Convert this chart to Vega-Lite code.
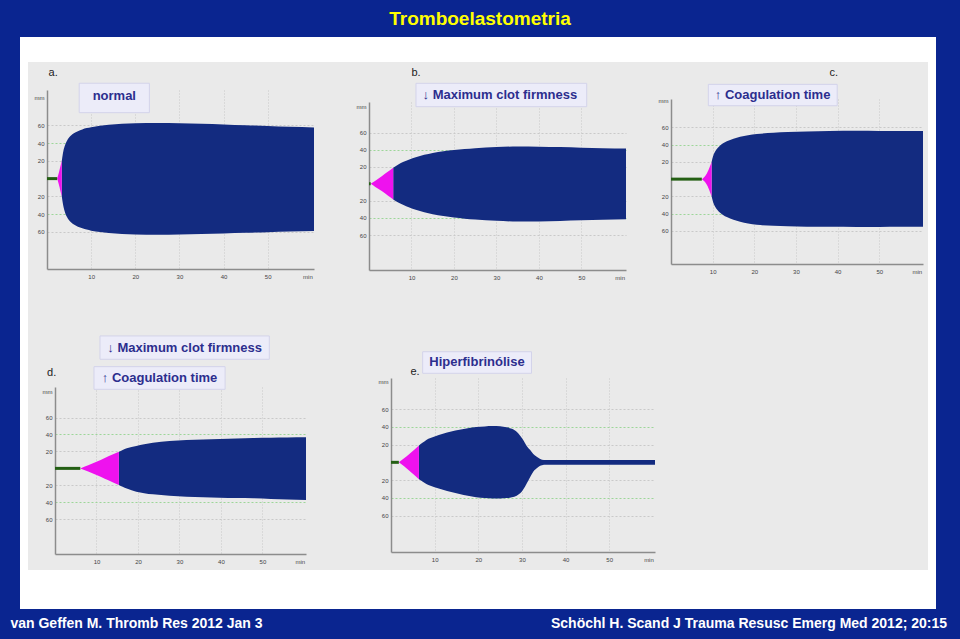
{
  "$schema": "https://vega.github.io/schema/vega-lite/v6.json",
  "background": "#eaeaea",
  "padding": 0,
  "config": {
    "view": {"stroke": null},
    "axis": {"labelFont": "Liberation Sans", "title": null},
    "text": {"font": "Liberation Sans"},
    "concat": {"spacing": 0}
  },
  "datasets": {
    "pa": [
      {"t": 0, "hi": 0, "lo": 0, "ph": "g"}, {"t": 2.3, "hi": 0, "lo": 0, "ph": "g"},
      {"t": 2.3, "hi": 0, "lo": 0, "ph": "p"}, {"t": 2.7, "hi": 7, "lo": -7, "ph": "p"}, {"t": 3.0, "hi": 13, "lo": -13, "ph": "p"}, {"t": 3.35, "hi": 20, "lo": -20, "ph": "p"},
      {"t": 3.35, "hi": 20, "lo": -20, "ph": "n"}, {"t": 3.7, "hi": 31, "lo": -31, "ph": "n"}, {"t": 4.1, "hi": 38, "lo": -38.5, "ph": "n"}, {"t": 4.5, "hi": 42.5, "lo": -43, "ph": "n"},
      {"t": 5, "hi": 46.5, "lo": -47, "ph": "n"}, {"t": 6, "hi": 51, "lo": -51.5, "ph": "n"}, {"t": 7, "hi": 53.5, "lo": -54.2, "ph": "n"}, {"t": 8, "hi": 55.5, "lo": -56, "ph": "n"},
      {"t": 9, "hi": 57, "lo": -57.5, "ph": "n"}, {"t": 10, "hi": 58, "lo": -58.7, "ph": "n"}, {"t": 12, "hi": 59.6, "lo": -60.3, "ph": "n"}, {"t": 14, "hi": 60.7, "lo": -61.5, "ph": "n"},
      {"t": 17, "hi": 61.8, "lo": -62.5, "ph": "n"}, {"t": 20, "hi": 62.4, "lo": -63, "ph": "n"}, {"t": 25, "hi": 62.8, "lo": -63.3, "ph": "n"}, {"t": 30, "hi": 62.6, "lo": -63, "ph": "n"},
      {"t": 35, "hi": 62, "lo": -62.6, "ph": "n"}, {"t": 40, "hi": 61.2, "lo": -62, "ph": "n"}, {"t": 45, "hi": 60.3, "lo": -61.2, "ph": "n"}, {"t": 50, "hi": 59.3, "lo": -60.4, "ph": "n"},
      {"t": 55, "hi": 58.4, "lo": -59.7, "ph": "n"}, {"t": 60.5, "hi": 57.6, "lo": -59, "ph": "n"}
    ],
    "pb": [
      {"t": 0, "hi": 0, "lo": 0, "ph": "g"}, {"t": 0.4, "hi": 0, "lo": 0, "ph": "g"},
      {"t": 0.4, "hi": 0, "lo": 0, "ph": "p"}, {"t": 1.5, "hi": 3.8, "lo": -3.6, "ph": "p"}, {"t": 3, "hi": 9, "lo": -8.5, "ph": "p"}, {"t": 4.5, "hi": 14.5, "lo": -14, "ph": "p"}, {"t": 5.7, "hi": 19, "lo": -18.2, "ph": "p"},
      {"t": 5.7, "hi": 19, "lo": -18.2, "ph": "n"}, {"t": 7, "hi": 23, "lo": -22, "ph": "n"}, {"t": 8, "hi": 25.5, "lo": -24.5, "ph": "n"}, {"t": 9.5, "hi": 28.7, "lo": -27.7, "ph": "n"},
      {"t": 11, "hi": 31.2, "lo": -30.3, "ph": "n"}, {"t": 13, "hi": 34, "lo": -33.3, "ph": "n"}, {"t": 15, "hi": 36.2, "lo": -35.7, "ph": "n"}, {"t": 17.5, "hi": 38.2, "lo": -37.8, "ph": "n"},
      {"t": 20, "hi": 39.6, "lo": -39.5, "ph": "n"}, {"t": 22.5, "hi": 40.8, "lo": -40.8, "ph": "n"}, {"t": 25, "hi": 41.8, "lo": -41.8, "ph": "n"}, {"t": 30, "hi": 43.1, "lo": -43.3, "ph": "n"},
      {"t": 35, "hi": 43.8, "lo": -44.2, "ph": "n"}, {"t": 40, "hi": 43.6, "lo": -44, "ph": "n"}, {"t": 45, "hi": 43.1, "lo": -43.5, "ph": "n"}, {"t": 50, "hi": 42.4, "lo": -42.8, "ph": "n"},
      {"t": 55, "hi": 41.9, "lo": -42.2, "ph": "n"}, {"t": 60.5, "hi": 41.4, "lo": -41.6, "ph": "n"}
    ],
    "pc": [
      {"t": 0, "hi": 0, "lo": 0, "ph": "g"}, {"t": 7.4, "hi": 0, "lo": 0, "ph": "g"},
      {"t": 7.4, "hi": 0, "lo": 0, "ph": "p"}, {"t": 8, "hi": 2.5, "lo": -2.5, "ph": "p"}, {"t": 8.6, "hi": 6.5, "lo": -6.5, "ph": "p"}, {"t": 9, "hi": 10.5, "lo": -10.5, "ph": "p"}, {"t": 9.4, "hi": 15.5, "lo": -15.5, "ph": "p"}, {"t": 9.75, "hi": 20, "lo": -20, "ph": "p"},
      {"t": 9.75, "hi": 20, "lo": -20, "ph": "n"}, {"t": 10.1, "hi": 26.5, "lo": -26.5, "ph": "n"}, {"t": 10.6, "hi": 32, "lo": -32, "ph": "n"}, {"t": 11.2, "hi": 36, "lo": -36, "ph": "n"},
      {"t": 11.8, "hi": 39, "lo": -39, "ph": "n"}, {"t": 12.5, "hi": 41.5, "lo": -41.5, "ph": "n"}, {"t": 13.4, "hi": 44, "lo": -44, "ph": "n"}, {"t": 15, "hi": 47, "lo": -47, "ph": "n"},
      {"t": 16.6, "hi": 49.3, "lo": -49.4, "ph": "n"}, {"t": 18.5, "hi": 51, "lo": -51.5, "ph": "n"}, {"t": 20.6, "hi": 52.3, "lo": -53, "ph": "n"}, {"t": 24.6, "hi": 53.8, "lo": -54.2, "ph": "n"},
      {"t": 28, "hi": 54.7, "lo": -54.8, "ph": "n"}, {"t": 32.6, "hi": 55.3, "lo": -55.2, "ph": "n"}, {"t": 38, "hi": 55.8, "lo": -55.4, "ph": "n"}, {"t": 44.6, "hi": 56.2, "lo": -55.5, "ph": "n"},
      {"t": 50, "hi": 56, "lo": -55.5, "ph": "n"}, {"t": 55, "hi": 55.9, "lo": -55.4, "ph": "n"}, {"t": 60.5, "hi": 55.8, "lo": -55.2, "ph": "n"}
    ],
    "pd": [
      {"t": 0, "hi": 0, "lo": 0, "ph": "g"}, {"t": 6.1, "hi": 0, "lo": 0, "ph": "g"},
      {"t": 6.1, "hi": 0, "lo": 0, "ph": "p"}, {"t": 8, "hi": 3.6, "lo": -3.6, "ph": "p"}, {"t": 10, "hi": 7.8, "lo": -7.8, "ph": "p"}, {"t": 12, "hi": 12.2, "lo": -12.2, "ph": "p"}, {"t": 14, "hi": 16.6, "lo": -16.6, "ph": "p"}, {"t": 15.4, "hi": 19.6, "lo": -19.6, "ph": "p"},
      {"t": 15.4, "hi": 19.6, "lo": -19.6, "ph": "n"}, {"t": 16.3, "hi": 21.8, "lo": -21.8, "ph": "n"}, {"t": 17.3, "hi": 23.7, "lo": -23.8, "ph": "n"}, {"t": 19.6, "hi": 26.4, "lo": -27.5, "ph": "n"},
      {"t": 21.5, "hi": 28.5, "lo": -29.2, "ph": "n"}, {"t": 23.6, "hi": 30.3, "lo": -30.6, "ph": "n"}, {"t": 27.6, "hi": 32.3, "lo": -32.4, "ph": "n"}, {"t": 31.7, "hi": 33.5, "lo": -33.4, "ph": "n"},
      {"t": 35.7, "hi": 34.2, "lo": -34.2, "ph": "n"}, {"t": 39.7, "hi": 34.7, "lo": -34.6, "ph": "n"}, {"t": 43.8, "hi": 35.3, "lo": -35, "ph": "n"}, {"t": 47.8, "hi": 35.9, "lo": -35.3, "ph": "n"},
      {"t": 52, "hi": 36.2, "lo": -36, "ph": "n"}, {"t": 56, "hi": 36.5, "lo": -36.6, "ph": "n"}, {"t": 60.5, "hi": 36.7, "lo": -37.3, "ph": "n"}
    ],
    "pe": [
      {"t": 0, "hi": 0, "lo": 0, "ph": "g"}, {"t": 1.8, "hi": 0, "lo": 0, "ph": "g"},
      {"t": 1.8, "hi": 0, "lo": 0, "ph": "p"}, {"t": 3, "hi": 4.5, "lo": -4.5, "ph": "p"}, {"t": 4.2, "hi": 9.5, "lo": -9.5, "ph": "p"}, {"t": 5.4, "hi": 14.5, "lo": -14.5, "ph": "p"}, {"t": 6.4, "hi": 19, "lo": -19, "ph": "p"},
      {"t": 6.4, "hi": 19, "lo": -19, "ph": "n"}, {"t": 7.2, "hi": 22, "lo": -21.5, "ph": "n"}, {"t": 8.1, "hi": 25.3, "lo": -24.5, "ph": "n"}, {"t": 10, "hi": 29.2, "lo": -28, "ph": "n"},
      {"t": 11.9, "hi": 32.2, "lo": -30.8, "ph": "n"}, {"t": 13.8, "hi": 34.7, "lo": -33.5, "ph": "n"}, {"t": 15.7, "hi": 36.7, "lo": -35.6, "ph": "n"}, {"t": 17.6, "hi": 38.4, "lo": -37.6, "ph": "n"},
      {"t": 19.5, "hi": 39.7, "lo": -39.2, "ph": "n"}, {"t": 21.5, "hi": 40.5, "lo": -40.3, "ph": "n"}, {"t": 23.3, "hi": 40.9, "lo": -40.8, "ph": "n"}, {"t": 25, "hi": 40.7, "lo": -40.8, "ph": "n"},
      {"t": 26.5, "hi": 39.4, "lo": -40.3, "ph": "n"}, {"t": 27.7, "hi": 37.9, "lo": -39.3, "ph": "n"}, {"t": 28.8, "hi": 34.5, "lo": -37.5, "ph": "n"}, {"t": 29.6, "hi": 30, "lo": -34.9, "ph": "n"},
      {"t": 30.3, "hi": 25.1, "lo": -30.5, "ph": "n"}, {"t": 31.1, "hi": 18.5, "lo": -23.7, "ph": "n"}, {"t": 31.9, "hi": 13.9, "lo": -16.5, "ph": "n"}, {"t": 32.6, "hi": 9.5, "lo": -10.6, "ph": "n"},
      {"t": 33.4, "hi": 6.3, "lo": -6.8, "ph": "n"}, {"t": 34.1, "hi": 4, "lo": -4.2, "ph": "n"}, {"t": 34.6, "hi": 3, "lo": -3.3, "ph": "n"}, {"t": 35.5, "hi": 2.7, "lo": -2.8, "ph": "n"},
      {"t": 60.5, "hi": 2.7, "lo": -2.8, "ph": "n"}
    ]
  },
  "spacing": 0,
  "vconcat": [
    {"width": 960, "height": 37, "view": {"fill": "#0a2590"}, "data": {"values": [{"label": "Tromboelastometria"}]},
     "mark": {"type": "text", "color": "#ffff00", "fontSize": 19, "fontWeight": "bold"}, "encoding": {"text": {"field": "label"}}},
    {"spacing": 0, "hconcat": [
      {"width": 20, "height": 572, "view": {"fill": "#0a2590"}, "data": {"values": []}, "mark": "point"},
      {"spacing": 0, "vconcat": [
        {"width": 916, "height": 25, "view": {"fill": "#ffffff"}, "data": {"values": []}, "mark": "point"},
        {"spacing": 0, "hconcat": [
          {"width": 8, "height": 508, "view": {"fill": "#ffffff"}, "data": {"values": []}, "mark": "point"},
          {"spacing": 0, "vconcat": [
            {"spacing": 0, "hconcat": [
              {"columns": 2, "spacing": 0, "bounds": "flush", "concat": [
                {"width": 19, "height": 28, "data": {"values": []}, "mark": "point"},
                {"width": 1, "height": 28, "data": {"values": []}, "mark": "point"},
                {"width": 19, "height": 1, "data": {"values": []}, "mark": "point"},
                {"width": 267, "height": 179, "layer": [
                  {"data": {"name": "pa"}, "transform": [{"filter": "datum.ph == 'n'"}], "mark": {"type": "area", "color": "#132b80", "interpolate": "monotone"},
                   "encoding": {"x": {"field": "t", "type": "quantitative", "scale": {"domain": [0, 60.5], "nice": false, "zero": false},
                     "axis": {"values": [10, 20, 30, 40, 50, 59], "tickCount": 20, "labelExpr": "datum.value == 59 ? 'min' : datum.label", "title": null, "ticks": false, "labelFontSize": 6, "labelColor": "#444444", "labelPadding": 4, "labelFlush": false, "labelOverlap": false, "domainColor": "#8c8c8c", "domainWidth": 1.5, "grid": true, "gridColor": "#c9c9c9", "gridDash": [1, 2], "gridOpacity": {"condition": {"test": "datum.value == 59", "value": 0}, "value": 1}}},
                    "y": {"field": "hi", "type": "quantitative", "scale": {"domain": [-102, 100], "nice": false, "zero": false},
                     "axis": {"values": [-60, -40, -20, 20, 40, 60, 91], "tickCount": 20, "labelExpr": "datum.value == 91 ? 'mm' : format(abs(datum.value), 'd')", "title": null, "ticks": false, "labelFontSize": 6, "labelColor": "#444444", "labelPadding": 3, "labelFlush": false, "labelOverlap": false, "domainColor": "#8c8c8c", "domainWidth": 1.5, "grid": true, "gridColor": {"condition": {"test": "abs(datum.value) == 40", "value": "#9dd699"}, "value": "#c9c9c9"}, "gridDash": [2, 2], "gridOpacity": {"condition": {"test": "datum.value == 91", "value": 0}, "value": 1}}},
                    "y2": {"field": "lo"}}},
                  {"data": {"name": "pa"}, "transform": [{"filter": "datum.ph == 'p'"}], "mark": {"type": "area", "color": "#ee12ee", "interpolate": "monotone"},
                   "encoding": {"x": {"field": "t", "type": "quantitative", "scale": {"domain": [0, 60.5], "nice": false, "zero": false}},
                    "y": {"field": "hi", "type": "quantitative", "scale": {"domain": [-102, 100], "nice": false, "zero": false}}, "y2": {"field": "lo"}}},
                  {"data": {"name": "pa"}, "transform": [{"filter": "datum.ph == 'g'"}], "mark": {"type": "line", "color": "#245f14", "strokeWidth": 3},
                   "encoding": {"x": {"field": "t", "type": "quantitative", "scale": {"domain": [0, 60.5], "nice": false, "zero": false}},
                    "y": {"field": "hi", "type": "quantitative", "scale": {"domain": [-102, 100], "nice": false, "zero": false}}}},
                  {"data": {"values": [{"label": "normal"}]}, "layer": [
                    {"mark": {"type": "rect", "fill": "#ececf9", "stroke": "#d3d3ea", "strokeWidth": 1},
                     "encoding": {"x": {"datum": 7.3, "type": "quantitative", "scale": {"domain": [0, 60.5], "nice": false, "zero": false}}, "x2": {"datum": 23.2},
                      "y": {"datum": 107.6, "type": "quantitative", "scale": {"domain": [-102, 100], "nice": false, "zero": false}}, "y2": {"datum": 74.4}}},
                    {"mark": {"type": "text", "fontSize": 13, "fontWeight": "bold", "color": "#2c2e8e"},
                     "encoding": {"x": {"datum": 15.25, "type": "quantitative", "scale": {"domain": [0, 60.5], "nice": false, "zero": false}},
                      "y": {"datum": 93.5, "type": "quantitative", "scale": {"domain": [-102, 100], "nice": false, "zero": false}}, "text": {"field": "label"}}}
                  ]},
                  {"data": {"values": [{"label": "a."}]}, "mark": {"type": "text", "fontSize": 11, "color": "#222222"},
                   "encoding": {"x": {"datum": 1.4, "type": "quantitative", "scale": {"domain": [0, 60.5], "nice": false, "zero": false}},
                    "y": {"datum": 119, "type": "quantitative", "scale": {"domain": [-102, 100], "nice": false, "zero": false}}, "text": {"field": "label"}}}
                ]},
                {"width": 19, "height": 43, "data": {"values": []}, "mark": "point"}
              ]},
              {"columns": 2, "spacing": 0, "bounds": "flush", "concat": [
                {"width": 55, "height": 40, "data": {"values": []}, "mark": "point"},
                {"width": 1, "height": 40, "data": {"values": []}, "mark": "point"},
                {"width": 55, "height": 1, "data": {"values": []}, "mark": "point"},
                {"width": 257, "height": 168, "layer": [
                  {"data": {"name": "pb"}, "transform": [{"filter": "datum.ph == 'n'"}], "mark": {"type": "area", "color": "#132b80", "interpolate": "monotone"},
                   "encoding": {"x": {"field": "t", "type": "quantitative", "scale": {"domain": [0, 60.5], "nice": false, "zero": false},
                     "axis": {"values": [10, 20, 30, 40, 50, 59], "tickCount": 20, "labelExpr": "datum.value == 59 ? 'min' : datum.label", "title": null, "ticks": false, "labelFontSize": 6, "labelColor": "#444444", "labelPadding": 4, "labelFlush": false, "labelOverlap": false, "domainColor": "#8c8c8c", "domainWidth": 1.5, "grid": true, "gridColor": "#c9c9c9", "gridDash": [1, 2], "gridOpacity": {"condition": {"test": "datum.value == 59", "value": 0}, "value": 1}}},
                    "y": {"field": "hi", "type": "quantitative", "scale": {"domain": [-101, 96], "nice": false, "zero": false},
                     "axis": {"values": [-60, -40, -20, 20, 40, 60, 91], "tickCount": 20, "labelExpr": "datum.value == 91 ? 'mm' : format(abs(datum.value), 'd')", "title": null, "ticks": false, "labelFontSize": 6, "labelColor": "#444444", "labelPadding": 3, "labelFlush": false, "labelOverlap": false, "domainColor": "#8c8c8c", "domainWidth": 1.5, "grid": true, "gridColor": {"condition": {"test": "abs(datum.value) == 40", "value": "#9dd699"}, "value": "#c9c9c9"}, "gridDash": [2, 2], "gridOpacity": {"condition": {"test": "datum.value == 91", "value": 0}, "value": 1}}},
                    "y2": {"field": "lo"}}},
                  {"data": {"name": "pb"}, "transform": [{"filter": "datum.ph == 'p'"}], "mark": {"type": "area", "color": "#ee12ee", "interpolate": "monotone"},
                   "encoding": {"x": {"field": "t", "type": "quantitative", "scale": {"domain": [0, 60.5], "nice": false, "zero": false}},
                    "y": {"field": "hi", "type": "quantitative", "scale": {"domain": [-101, 96], "nice": false, "zero": false}}, "y2": {"field": "lo"}}},
                  {"data": {"name": "pb"}, "transform": [{"filter": "datum.ph == 'g'"}], "mark": {"type": "line", "color": "#245f14", "strokeWidth": 3},
                   "encoding": {"x": {"field": "t", "type": "quantitative", "scale": {"domain": [0, 60.5], "nice": false, "zero": false}},
                    "y": {"field": "hi", "type": "quantitative", "scale": {"domain": [-101, 96], "nice": false, "zero": false}}}},
                  {"data": {"values": [{"label": "↓ Maximum clot firmness"}]}, "layer": [
                    {"mark": {"type": "rect", "fill": "#ececf9", "stroke": "#d3d3ea", "strokeWidth": 1},
                     "encoding": {"x": {"datum": 11.06, "type": "quantitative", "scale": {"domain": [0, 60.5], "nice": false, "zero": false}}, "x2": {"datum": 51.25},
                      "y": {"datum": 117.9, "type": "quantitative", "scale": {"domain": [-101, 96], "nice": false, "zero": false}}, "y2": {"datum": 90.5}}},
                    {"mark": {"type": "text", "fontSize": 13, "fontWeight": "bold", "color": "#2c2e8e"},
                     "encoding": {"x": {"datum": 30.8, "type": "quantitative", "scale": {"domain": [0, 60.5], "nice": false, "zero": false}},
                      "y": {"datum": 104.5, "type": "quantitative", "scale": {"domain": [-101, 96], "nice": false, "zero": false}}, "text": {"field": "label"}}}
                  ]},
                  {"data": {"values": [{"label": "b."}]}, "mark": {"type": "text", "fontSize": 11, "color": "#222222"},
                   "encoding": {"x": {"datum": 11.06, "type": "quantitative", "scale": {"domain": [0, 60.5], "nice": false, "zero": false}},
                    "y": {"datum": 130.4, "type": "quantitative", "scale": {"domain": [-101, 96], "nice": false, "zero": false}}, "text": {"field": "label"}}}
                ]},
                {"width": 55, "height": 42, "data": {"values": []}, "mark": "point"}
              ]},
              {"columns": 2, "spacing": 0, "bounds": "flush", "concat": [
                {"width": 45, "height": 37, "data": {"values": []}, "mark": "point"},
                {"width": 1, "height": 37, "data": {"values": []}, "mark": "point"},
                {"width": 45, "height": 1, "data": {"values": []}, "mark": "point"},
                {"width": 252, "height": 165, "layer": [
                  {"data": {"name": "pc"}, "transform": [{"filter": "datum.ph == 'n'"}], "mark": {"type": "area", "color": "#132b80", "interpolate": "monotone"},
                   "encoding": {"x": {"field": "t", "type": "quantitative", "scale": {"domain": [0, 60.5], "nice": false, "zero": false},
                     "axis": {"values": [10, 20, 30, 40, 50, 59], "tickCount": 20, "labelExpr": "datum.value == 59 ? 'min' : datum.label", "title": null, "ticks": false, "labelFontSize": 6, "labelColor": "#444444", "labelPadding": 4, "labelFlush": false, "labelOverlap": false, "domainColor": "#8c8c8c", "domainWidth": 1.5, "grid": true, "gridColor": "#c9c9c9", "gridDash": [1, 2], "gridOpacity": {"condition": {"test": "datum.value == 59", "value": 0}, "value": 1}}},
                    "y": {"field": "hi", "type": "quantitative", "scale": {"domain": [-98.5, 93], "nice": false, "zero": false},
                     "axis": {"values": [-60, -40, -20, 20, 40, 60, 91], "tickCount": 20, "labelExpr": "datum.value == 91 ? 'mm' : format(abs(datum.value), 'd')", "title": null, "ticks": false, "labelFontSize": 6, "labelColor": "#444444", "labelPadding": 3, "labelFlush": false, "labelOverlap": false, "domainColor": "#8c8c8c", "domainWidth": 1.5, "grid": true, "gridColor": {"condition": {"test": "abs(datum.value) == 40", "value": "#9dd699"}, "value": "#c9c9c9"}, "gridDash": [2, 2], "gridOpacity": {"condition": {"test": "datum.value == 91", "value": 0}, "value": 1}}},
                    "y2": {"field": "lo"}}},
                  {"data": {"name": "pc"}, "transform": [{"filter": "datum.ph == 'p'"}], "mark": {"type": "area", "color": "#ee12ee", "interpolate": "monotone"},
                   "encoding": {"x": {"field": "t", "type": "quantitative", "scale": {"domain": [0, 60.5], "nice": false, "zero": false}},
                    "y": {"field": "hi", "type": "quantitative", "scale": {"domain": [-98.5, 93], "nice": false, "zero": false}}, "y2": {"field": "lo"}}},
                  {"data": {"name": "pc"}, "transform": [{"filter": "datum.ph == 'g'"}], "mark": {"type": "line", "color": "#245f14", "strokeWidth": 3},
                   "encoding": {"x": {"field": "t", "type": "quantitative", "scale": {"domain": [0, 60.5], "nice": false, "zero": false}},
                    "y": {"field": "hi", "type": "quantitative", "scale": {"domain": [-98.5, 93], "nice": false, "zero": false}}}},
                  {"data": {"values": [{"label": "↑ Coagulation time"}]}, "layer": [
                    {"mark": {"type": "rect", "fill": "#ececf9", "stroke": "#d3d3ea", "strokeWidth": 1},
                     "encoding": {"x": {"datum": 8.96, "type": "quantitative", "scale": {"domain": [0, 60.5], "nice": false, "zero": false}}, "x2": {"datum": 39.9},
                      "y": {"datum": 110, "type": "quantitative", "scale": {"domain": [-98.5, 93], "nice": false, "zero": false}}, "y2": {"datum": 85.2}}},
                    {"mark": {"type": "text", "fontSize": 13, "fontWeight": "bold", "color": "#2c2e8e"},
                     "encoding": {"x": {"datum": 24.4, "type": "quantitative", "scale": {"domain": [0, 60.5], "nice": false, "zero": false}},
                      "y": {"datum": 97.6, "type": "quantitative", "scale": {"domain": [-98.5, 93], "nice": false, "zero": false}}, "text": {"field": "label"}}}
                  ]},
                  {"data": {"values": [{"label": "c."}]}, "mark": {"type": "text", "fontSize": 11, "color": "#222222"},
                   "encoding": {"x": {"datum": 39.1, "type": "quantitative", "scale": {"domain": [0, 60.5], "nice": false, "zero": false}},
                    "y": {"datum": 123.2, "type": "quantitative", "scale": {"domain": [-98.5, 93], "nice": false, "zero": false}}, "text": {"field": "label"}}}
                ]},
                {"width": 45, "height": 48, "data": {"values": []}, "mark": "point"}
              ]}
            ]},
            {"spacing": 0, "hconcat": [
              {"columns": 2, "spacing": 0, "bounds": "flush", "concat": [
                {"width": 27, "height": 75, "data": {"values": []}, "mark": "point"},
                {"width": 1, "height": 75, "data": {"values": []}, "mark": "point"},
                {"width": 27, "height": 1, "data": {"values": []}, "mark": "point"},
                {"width": 251, "height": 167, "layer": [
                  {"data": {"name": "pd"}, "transform": [{"filter": "datum.ph == 'n'"}], "mark": {"type": "area", "color": "#132b80", "interpolate": "monotone"},
                   "encoding": {"x": {"field": "t", "type": "quantitative", "scale": {"domain": [0, 60.5], "nice": false, "zero": false},
                     "axis": {"values": [10, 20, 30, 40, 50, 59], "tickCount": 20, "labelExpr": "datum.value == 59 ? 'min' : datum.label", "title": null, "ticks": false, "labelFontSize": 6, "labelColor": "#444444", "labelPadding": 4, "labelFlush": false, "labelOverlap": false, "domainColor": "#8c8c8c", "domainWidth": 1.5, "grid": true, "gridColor": "#c9c9c9", "gridDash": [1, 2], "gridOpacity": {"condition": {"test": "datum.value == 59", "value": 0}, "value": 1}}},
                    "y": {"field": "hi", "type": "quantitative", "scale": {"domain": [-101, 96], "nice": false, "zero": false},
                     "axis": {"values": [-60, -40, -20, 20, 40, 60, 91], "tickCount": 20, "labelExpr": "datum.value == 91 ? 'mm' : format(abs(datum.value), 'd')", "title": null, "ticks": false, "labelFontSize": 6, "labelColor": "#444444", "labelPadding": 3, "labelFlush": false, "labelOverlap": false, "domainColor": "#8c8c8c", "domainWidth": 1.5, "grid": true, "gridColor": {"condition": {"test": "abs(datum.value) == 40", "value": "#9dd699"}, "value": "#c9c9c9"}, "gridDash": [2, 2], "gridOpacity": {"condition": {"test": "datum.value == 91", "value": 0}, "value": 1}}},
                    "y2": {"field": "lo"}}},
                  {"data": {"name": "pd"}, "transform": [{"filter": "datum.ph == 'p'"}], "mark": {"type": "area", "color": "#ee12ee", "interpolate": "monotone"},
                   "encoding": {"x": {"field": "t", "type": "quantitative", "scale": {"domain": [0, 60.5], "nice": false, "zero": false}},
                    "y": {"field": "hi", "type": "quantitative", "scale": {"domain": [-101, 96], "nice": false, "zero": false}}, "y2": {"field": "lo"}}},
                  {"data": {"name": "pd"}, "transform": [{"filter": "datum.ph == 'g'"}], "mark": {"type": "line", "color": "#245f14", "strokeWidth": 3},
                   "encoding": {"x": {"field": "t", "type": "quantitative", "scale": {"domain": [0, 60.5], "nice": false, "zero": false}},
                    "y": {"field": "hi", "type": "quantitative", "scale": {"domain": [-101, 96], "nice": false, "zero": false}}}},
                  {"data": {"values": [{"label": "↓ Maximum clot firmness"}]}, "layer": [
                    {"mark": {"type": "rect", "fill": "#ececf9", "stroke": "#d3d3ea", "strokeWidth": 1},
                     "encoding": {"x": {"datum": 10.85, "type": "quantitative", "scale": {"domain": [0, 60.5], "nice": false, "zero": false}}, "x2": {"datum": 51.65},
                      "y": {"datum": 156.2, "type": "quantitative", "scale": {"domain": [-101, 96], "nice": false, "zero": false}}, "y2": {"datum": 128.7}}},
                    {"mark": {"type": "text", "fontSize": 13, "fontWeight": "bold", "color": "#2c2e8e"},
                     "encoding": {"x": {"datum": 31.25, "type": "quantitative", "scale": {"domain": [0, 60.5], "nice": false, "zero": false}},
                      "y": {"datum": 142.4, "type": "quantitative", "scale": {"domain": [-101, 96], "nice": false, "zero": false}}, "text": {"field": "label"}}}
                  ]},
                  {"data": {"values": [{"label": "↑ Coagulation time"}]}, "layer": [
                    {"mark": {"type": "rect", "fill": "#ececf9", "stroke": "#d3d3ea", "strokeWidth": 1},
                     "encoding": {"x": {"datum": 9.4, "type": "quantitative", "scale": {"domain": [0, 60.5], "nice": false, "zero": false}}, "x2": {"datum": 41},
                      "y": {"datum": 120, "type": "quantitative", "scale": {"domain": [-101, 96], "nice": false, "zero": false}}, "y2": {"datum": 93.3}}},
                    {"mark": {"type": "text", "fontSize": 13, "fontWeight": "bold", "color": "#2c2e8e"},
                     "encoding": {"x": {"datum": 25.2, "type": "quantitative", "scale": {"domain": [0, 60.5], "nice": false, "zero": false}},
                      "y": {"datum": 106.6, "type": "quantitative", "scale": {"domain": [-101, 96], "nice": false, "zero": false}}, "text": {"field": "label"}}}
                  ]},
                  {"data": {"values": [{"label": "d."}]}, "mark": {"type": "text", "fontSize": 11, "color": "#222222"},
                   "encoding": {"x": {"datum": -0.8, "type": "quantitative", "scale": {"domain": [0, 60.5], "nice": false, "zero": false}},
                    "y": {"datum": 112.9, "type": "quantitative", "scale": {"domain": [-101, 96], "nice": false, "zero": false}}, "text": {"field": "label"}}}
                ]},
                {"width": 27, "height": 14, "data": {"values": []}, "mark": "point"}
              ]},
              {"columns": 2, "spacing": 0, "bounds": "flush", "concat": [
                {"width": 85, "height": 66, "data": {"values": []}, "mark": "point"},
                {"width": 1, "height": 66, "data": {"values": []}, "mark": "point"},
                {"width": 85, "height": 1, "data": {"values": []}, "mark": "point"},
                {"width": 264, "height": 174, "layer": [
                  {"data": {"name": "pe"}, "transform": [{"filter": "datum.ph == 'n'"}], "mark": {"type": "area", "color": "#132b80", "interpolate": "monotone"},
                   "encoding": {"x": {"field": "t", "type": "quantitative", "scale": {"domain": [0, 60.5], "nice": false, "zero": false},
                     "axis": {"values": [10, 20, 30, 40, 50, 59], "tickCount": 20, "labelExpr": "datum.value == 59 ? 'min' : datum.label", "title": null, "ticks": false, "labelFontSize": 6, "labelColor": "#444444", "labelPadding": 4, "labelFlush": false, "labelOverlap": false, "domainColor": "#8c8c8c", "domainWidth": 1.5, "grid": true, "gridColor": "#c9c9c9", "gridDash": [1, 2], "gridOpacity": {"condition": {"test": "datum.value == 59", "value": 0}, "value": 1}}},
                    "y": {"field": "hi", "type": "quantitative", "scale": {"domain": [-101, 95], "nice": false, "zero": false},
                     "axis": {"values": [-60, -40, -20, 20, 40, 60, 91], "tickCount": 20, "labelExpr": "datum.value == 91 ? 'mm' : format(abs(datum.value), 'd')", "title": null, "ticks": false, "labelFontSize": 6, "labelColor": "#444444", "labelPadding": 3, "labelFlush": false, "labelOverlap": false, "domainColor": "#8c8c8c", "domainWidth": 1.5, "grid": true, "gridColor": {"condition": {"test": "abs(datum.value) == 40", "value": "#9dd699"}, "value": "#c9c9c9"}, "gridDash": [2, 2], "gridOpacity": {"condition": {"test": "datum.value == 91", "value": 0}, "value": 1}}},
                    "y2": {"field": "lo"}}},
                  {"data": {"name": "pe"}, "transform": [{"filter": "datum.ph == 'p'"}], "mark": {"type": "area", "color": "#ee12ee", "interpolate": "monotone"},
                   "encoding": {"x": {"field": "t", "type": "quantitative", "scale": {"domain": [0, 60.5], "nice": false, "zero": false}},
                    "y": {"field": "hi", "type": "quantitative", "scale": {"domain": [-101, 95], "nice": false, "zero": false}}, "y2": {"field": "lo"}}},
                  {"data": {"name": "pe"}, "transform": [{"filter": "datum.ph == 'g'"}], "mark": {"type": "line", "color": "#245f14", "strokeWidth": 3},
                   "encoding": {"x": {"field": "t", "type": "quantitative", "scale": {"domain": [0, 60.5], "nice": false, "zero": false}},
                    "y": {"field": "hi", "type": "quantitative", "scale": {"domain": [-101, 95], "nice": false, "zero": false}}}},
                  {"data": {"values": [{"label": "Hiperfibrinólise"}]}, "layer": [
                    {"mark": {"type": "rect", "fill": "#ececf9", "stroke": "#d3d3ea", "strokeWidth": 1},
                     "encoding": {"x": {"datum": 7.26, "type": "quantitative", "scale": {"domain": [0, 60.5], "nice": false, "zero": false}}, "x2": {"datum": 32.2},
                      "y": {"datum": 124.6, "type": "quantitative", "scale": {"domain": [-101, 95], "nice": false, "zero": false}}, "y2": {"datum": 100.3}}},
                    {"mark": {"type": "text", "fontSize": 13, "fontWeight": "bold", "color": "#2c2e8e"},
                     "encoding": {"x": {"datum": 19.7, "type": "quantitative", "scale": {"domain": [0, 60.5], "nice": false, "zero": false}},
                      "y": {"datum": 112.5, "type": "quantitative", "scale": {"domain": [-101, 95], "nice": false, "zero": false}}, "text": {"field": "label"}}}
                  ]},
                  {"data": {"values": [{"label": "e."}]}, "mark": {"type": "text", "fontSize": 11, "color": "#222222"},
                   "encoding": {"x": {"datum": 5.5, "type": "quantitative", "scale": {"domain": [0, 60.5], "nice": false, "zero": false}},
                    "y": {"datum": 102, "type": "quantitative", "scale": {"domain": [-101, 95], "nice": false, "zero": false}}, "text": {"field": "label"}}}
                ]},
                {"width": 85, "height": 14, "data": {"values": []}, "mark": "point"}
              ]}
            ]},
            {"width": 900, "height": 2, "data": {"values": []}, "mark": "point"}
          ]},
          {"width": 8, "height": 508, "view": {"fill": "#ffffff"}, "data": {"values": []}, "mark": "point"}
        ]},
        {"width": 916, "height": 39, "view": {"fill": "#ffffff"}, "data": {"values": []}, "mark": "point"}
      ]},
      {"width": 24, "height": 572, "view": {"fill": "#0a2590"}, "data": {"values": []}, "mark": "point"}
    ]},
    {"spacing": 0, "hconcat": [
      {"width": 273, "height": 30, "view": {"fill": "#0a2590"}, "data": {"values": [{"label": "van Geffen M. Thromb Res 2012 Jan 3"}]},
       "mark": {"type": "text", "color": "#ffffff", "fontSize": 14, "fontWeight": "bold"}, "encoding": {"text": {"field": "label"}}},
      {"width": 275, "height": 30, "view": {"fill": "#0a2590"}, "data": {"values": []}, "mark": "point"},
      {"width": 402, "height": 30, "view": {"fill": "#0a2590"}, "data": {"values": [{"label": "Schöchl H. Scand J Trauma Resusc Emerg Med 2012; 20:15"}]},
       "mark": {"type": "text", "color": "#ffffff", "fontSize": 14, "fontWeight": "bold"}, "encoding": {"text": {"field": "label"}}},
      {"width": 10, "height": 30, "view": {"fill": "#0a2590"}, "data": {"values": []}, "mark": "point"}
    ]}
  ]
}
